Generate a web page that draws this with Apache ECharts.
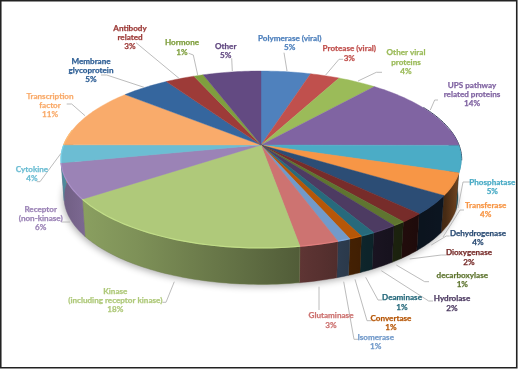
<!DOCTYPE html>
<html><head><meta charset="utf-8">
<style>html,body{margin:0;padding:0;background:#fff}#c{width:518px;height:369px}</style>
<script src="https://cdn.jsdelivr.net/npm/echarts@6/dist/echarts.min.js"></script>
</head><body><div id="c"></div>
<script>
const categories=['Polymerase (viral)','Protease (viral)','Other viral proteins','UPS pathway related proteins','Phosphatase','Transferase','Dehydrogenase','Dioxygenase','decarboxylase','Hydrolase','Deaminase','Convertase','Isomerase','Glutaminase','Kinase (including receptor kinase)','Receptor (non-kinase)','Cytokine','Transcription factor','Membrane glycoprotein','Antibody related','Hormone','Other'];
const values=[4.7,2.8,3.7,13.9,4.9,4.0,3.5,1.7,0.9,1.8,1.0,0.9,0.9,2.7,18.0,6.45,3.25,11.2,4.6,2.8,0.9,5.5];
const percentLabels=['5%','3%','4%','14%','5%','4%','4%','2%','1%','2%','1%','1%','1%','3%','18%','6%','4%','11%','5%','3%','1%','5%'];
const labelLines=[['Polymerase (viral)'],['Protease (viral)'],['Other viral','proteins'],['UPS pathway','related proteins'],['Phosphatase'],['Transferase'],['Dehydrogenase'],['Dioxygenase'],['decarboxylase'],['Hydrolase'],['Deaminase'],['Convertase'],['Isomerase'],['Glutaminase'],['Kinase','(including receptor kinase)'],['Receptor','(non-kinase)'],['Cytokine'],['Transcription','factor'],['Membrane','glycoprotein'],['Antibody','related'],['Hormone'],['Other']];
const colors=['#4f81bd','#c0504d','#9bbb59','#8064a2','#4bacc6','#f79646','#2c4d75','#772c2a','#5f7530','#4d3b62','#276a7c','#b65708','#729aca','#cd7371','#afc97a','#9b83b6','#6cbdd3','#f9ab6b','#35669e','#9d3b38','#7f9f3e','#634a82'];
const textColors=['#4f81bd','#c0504d','#9bbb59','#8064a2','#4bacc6','#f79646','#2c4d75','#772c2a','#5f7530','#4d3b62','#276a7c','#b65708','#729aca','#cd7371','#afc97a','#9b83b6','#6cbdd3','#f9ab6b','#2c5d94','#9d3b38','#7f9f3e','#634a82'];
// label layout: centre x, first line y
const labelAnchor=[[289.7,38.3],[349.3,48.7],[406,52.7],[472,85.3],[492.3,182.3],[485.7,205],[478,233],[469,252.7],[462.3,275],[452,298.7],[402,297.7],[391,318],[375.7,337],[331,315.7],[115.3,291],[40.7,209.3],[32,169.3],[50,96],[91,61],[130,28],[182,42.7],[225.7,46]];
const leaders=[[[284,52.7],[287,71]],[[343,59.3],[339,59.3],[325.7,75]],[[382,72.3],[376.3,72.3],[358,81]],[[438,100],[434.7,100],[430.3,110]],[[470,182],[463,182],[458,208]],[[464,210],[460,210],[443,237]],[[449.7,236],[446.3,236],[431.3,245]],[[446.3,255],[441.3,255],[409.7,259]],[[429,281.7],[424.7,281.7],[396.3,265]],[[433,301],[428.7,301],[381.3,270.7]],[[382,300],[378,300],[365.7,277.3]],[[371.3,320.7],[367,320.7],[355,279.3]],[[358,339.3],[354,339.3],[343.7,281.7]],[[319,310],[319,286.7]],[[162.3,302.3],[166,302.3],[174.3,281.7]],[[62,222],[70,222]],[[36.7,181.7],[40,181.7],[61,153.3]],[[66.7,104],[71.7,104],[85,115.7]],[[101,75],[106.7,75],[144,87.3]],[[136,42.7],[179,78.3]],[[188.7,53.3],[193.3,55],[197.7,75]],[[231.7,58.3],[232.3,71]]];
const CX=261,CY=145,K=0.1638,AY=86.1,BX=197.3,DEPTH=38,BOTTOM_SCALE=0.985;
const total=values.reduce((a,b)=>a+b,0);
const cum=[];values.reduce((a,b,i)=>{cum[i]=a;return a+b},0);
function proj(th,r,low){
  const u=r*Math.sin(th),v=-r*Math.cos(th),w=1/(1-K*v);
  const s=low?BOTTOM_SCALE:1;
  return [CX+BX*u*w*s,CY+AY*v*w*s+(low?DEPTH:0)];
}
function arc(a,b,low){const n=Math.max(2,Math.ceil((b-a)/0.02)),p=[];for(let i=0;i<=n;i++)p.push(proj(a+(b-a)*i/n,1,low));return p;}
function hex(c){return [1,3,5].map(i=>parseInt(c.substr(i,2),16));}
function mix(c,f){const h=hex(c);return 'rgb('+h.map(x=>Math.min(255,Math.round(x*f))).join(',')+')';}
const shadeStops=[[62,.72],[85,.8],[200,.62],[300,.46],[345,.38],[420,.25],[445,.28],[462,.5]];
function shade(x){for(let i=1;i<shadeStops.length;i++){if(x<=shadeStops[i][0]){const a=shadeStops[i-1],b=shadeStops[i];return a[1]+(b[1]-a[1])*(x-a[0])/(b[0]-a[0]);}}return .5;}
const WALL_A=80*Math.PI/180,WALL_B=280*Math.PI/180;
function renderSlice(params,api){
  const i=api.value(0),val=api.value(1),start=api.value(2);
  const a=start/total*2*Math.PI,b=(start+val)/total*2*Math.PI,col=colors[i],children=[];
  const wa=Math.max(a,WALL_A),wb=Math.min(b,WALL_B);
  if(wb>wa){
    const top=arc(wa,wb,false),low=arc(wa,wb,true).reverse();
    const xs=top.concat(low).map(p=>p[0]),x0=Math.min(...xs),x1=Math.max(...xs),stops=[];
    for(let t=0;t<=4;t++){const x=x0+(x1-x0)*t/4;stops.push({offset:t/4,color:mix(col,shade(x))});}
    children.push({type:'polygon',z2:1,shape:{points:top.concat(low)},style:{fill:{type:'linear',x:x0,y:0,x2:x1,y2:0,global:true,colorStops:stops},stroke:mix(col,shade((x0+x1)/2)),lineWidth:.4}});
    const hl=wa<135*Math.PI/180?1:1.12;
    children.push({type:'polyline',z2:3,shape:{points:arc(wa,wb,false)},style:{fill:null,stroke:mix(col,hl),lineWidth:1.2,opacity:.9}});
  }
  const face=[[CX,CY]].concat(arc(a,b,false));
  children.push({type:'polygon',z2:2,shape:{points:face},style:{fill:col,stroke:col,lineWidth:.4}});
  return {type:'group',children};
}
function renderLabel(params,api){
  const i=api.value(0),a=labelAnchor[i],children=[];
  const lines=labelLines[i].concat([percentLabels[i]]);
  children.push({type:'polyline',shape:{points:leaders[i]},style:{fill:null,stroke:'#b4b4b4',lineWidth:.9}});
  lines.forEach((t,j)=>children.push({type:'text',z2:5,style:{text:t,x:a[0],y:a[1]+j*9.25,align:'center',verticalAlign:'middle',fill:textColors[i],stroke:textColors[i],lineWidth:.25,font:'bold 8.1px Lato'}}));
  return {type:'group',children};
}
function renderShadow(params,api){
  return {type:'group',children:[
    {type:'polygon',shape:{points:arc(WALL_A-.3,WALL_B+.3,true)},style:{fill:'#bbb',shadowBlur:7,shadowColor:'rgba(0,0,0,.32)',shadowOffsetX:-1,shadowOffsetY:2}},
    {type:'polyline',z2:10,shape:{points:arc(62*Math.PI/180,100*Math.PI/180,false).map(p=>[p[0]+.7,p[1]])},style:{fill:null,stroke:'#2b3a55',lineWidth:1}}
  ]};
}
const sliceData=values.map((v,i)=>[i,v,cum[i]]);
const chart=echarts.init(document.getElementById('c'),null,{renderer:'canvas'});
chart.setOption({
  animation:false,backgroundColor:'#fff',
  graphic:[{type:'rect',silent:true,z:100,shape:{x:.75,y:.75,width:516,height:367},style:{fill:null,stroke:'#222',lineWidth:1.6}}],
  series:[
   {type:'custom',coordinateSystem:'none',z:1,silent:true,data:[[0]],renderItem:renderShadow},
   {type:'custom',coordinateSystem:'none',z:2,silent:true,name:'Targets',data:sliceData,renderItem:renderSlice},
   {type:'custom',coordinateSystem:'none',z:3,silent:true,data:sliceData,renderItem:renderLabel}
  ]
});
</script></body></html>
